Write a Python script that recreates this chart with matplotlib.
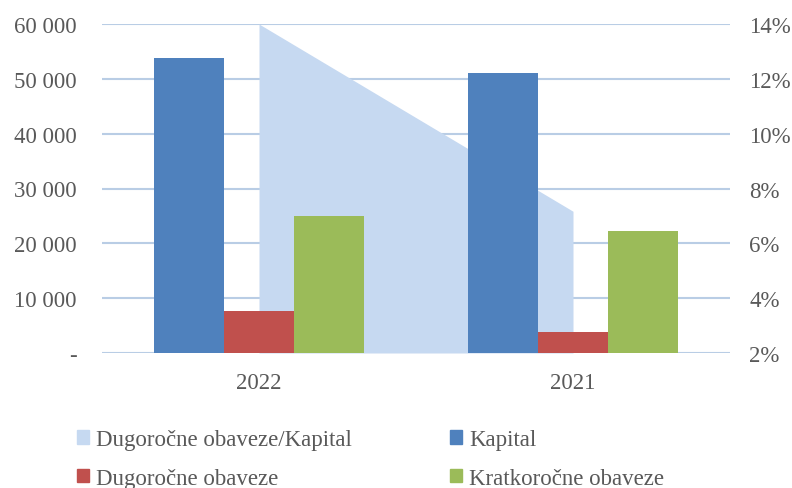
import numpy as np
import matplotlib.pyplot as plt
from matplotlib.patches import Patch
from matplotlib.ticker import FuncFormatter, FixedLocator

plt.rcParams['font.family'] = ['Liberation Serif', 'DejaVu Serif']

godine = ['2022', '2021']
kapital = [53850, 51100]
dugorocne = [7600, 3800]
kratkorocne = [25000, 22200]
odnos = [0.14, 0.0717]

c_kap = '#4F81BD'
c_dug = '#C0504D'
c_krat = '#9BBB59'
c_odn = '#C6D9F1'
c_grid = '#B9CDE5'
c_txt = '#595959'
fs = 16.5

fig = plt.figure(figsize=(7.92, 4.89), dpi=100)
pos = [102/792, 1 - 354/489, (730 - 102)/792, (354 - 25)/489]

# back axes: gridlines + area (secondary scale)
ax2 = fig.add_axes(pos)
ax = fig.add_axes(pos, sharex=ax2)
ax.set_zorder(ax2.get_zorder() + 1)
ax.patch.set_visible(False)

x = np.arange(len(godine))
ax2.fill_between(x, 0.02, odnos, color=c_odn, lw=0, zorder=3)
ax2.set_ylim(0.02, 0.14)
ax2.yaxis.set_major_locator(FixedLocator(np.arange(0.02, 0.1401, 0.02)))
ax2.yaxis.grid(True, color=c_grid, lw=1.5, zorder=1)
ax2.set_axisbelow(True)
ax2.yaxis.tick_right()
ax2.yaxis.set_major_formatter(FuncFormatter(lambda v, p: f'{v*100:.0f}%'))

w = 0.2222
ax.bar(x - w, kapital, w, color=c_kap, zorder=3)
ax.bar(x, dugorocne, w, color=c_dug, zorder=3)
ax.bar(x + w, kratkorocne, w, color=c_krat, zorder=3)
ax.set_ylim(0, 60000)
ax.set_yticks(np.arange(0, 60001, 10000))
ax.yaxis.set_major_formatter(FuncFormatter(
    lambda v, p: '-' if v == 0 else f'{int(v):,}'.replace(',', ' ')))
ax.set_xlim(-0.5, 1.5)
ax.set_xticks(x)
ax.set_xticklabels(godine)

for a in (ax, ax2):
    for s in a.spines.values():
        s.set_visible(False)
    a.tick_params(length=0, labelsize=fs, labelcolor=c_txt)
ax.tick_params(axis='y', pad=18)
ax2.tick_params(axis='y', pad=14)
ax.tick_params(axis='x', pad=14)
ax2.tick_params(axis='x', labelbottom=False)

handles = [Patch(color=c_odn, label='Dugoročne obaveze/Kapital'),
           Patch(color=c_dug, label='Dugoročne obaveze'),
           Patch(color=c_kap, label='Kapital'),
           Patch(color=c_krat, label='Kratkoročne obaveze')]
fig.legend(handles=handles, ncol=2, loc='upper left',
           bbox_to_anchor=(77/792, 1 - 430/489), frameon=False,
           fontsize=fs, labelcolor=c_txt, handlelength=0.52, handleheight=0.52,
           handletextpad=0.3, columnspacing=4.3, labelspacing=0.78,
           borderpad=0, borderaxespad=0)

fig.savefig('out.png', dpi=100)
